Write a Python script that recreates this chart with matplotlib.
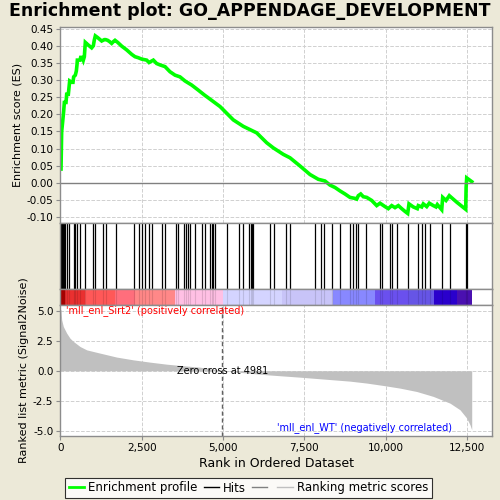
import matplotlib

matplotlib.use("Agg")

import matplotlib.pyplot as plt
from matplotlib.lines import Line2D
from matplotlib.ticker import FuncFormatter, MultipleLocator

TITLE = "Enrichment plot: GO_APPENDAGE_DEVELOPMENT"
N_GENES = 12650
ZERO_CROSS = 4981
POS_LABEL = "'mll_enl_Sirt2' (positively correlated)"
NEG_LABEL = "'mll_enl_WT' (negatively correlated)"

# positions of the gene-set members in the ranked list
HIT_RANKS = [
    0, 22, 52, 83, 114, 144, 197, 267, 406, 452, 504, 606, 750, 996, 1067,
    1322, 1405, 1703, 2275, 2419, 2521, 2604, 2736, 2828, 3117, 3219, 3547,
    3609, 3812, 3864, 3916, 3987, 4141, 4347, 4448, 4602, 4648, 4704, 4756,
    5115, 5503, 5626, 5810, 5847, 5878, 5933, 6446, 6569, 6938, 7061, 7829,
    8005, 8106, 8343, 8598, 8905, 9007, 9081, 9161, 9388, 9828, 9881, 10135,
    10206, 10341, 10698, 11005, 11110, 11211, 11365, 11725, 11980, 12462,
    12487,
]

# running enrichment score
ES_RANKS = [
    22, 42, 73, 104, 124, 175, 196, 247, 267, 288, 350, 390, 411, 462, 493,
    513, 524, 606, 626, 677, 708, 739, 769, 862, 964, 1015, 1046, 1077, 1149,
    1272, 1354, 1395, 1456, 1518, 1579, 1630, 1682, 1764, 1887, 2040, 2194,
    2296, 2399, 2501, 2655, 2727, 2860, 2962, 3065, 3219, 3372, 3526, 3679,
    3833, 4038, 4243, 4428, 4500, 4911, 5318, 5626, 6037, 6345, 6548, 6855,
    7061, 7369, 7676, 7931, 8137, 8291, 8444, 8598, 8752, 8905, 9059, 9111,
    9161, 9235, 9315, 9419, 9573, 9726, 9828, 9982, 10083, 10188, 10289,
    10391, 10495, 10596, 10679, 10719, 10852, 10975, 11005, 11110, 11159,
    11264, 11343, 11466, 11549, 11590, 11725, 11755, 11857, 11958, 12186,
    12462, 12475, 12493, 12650,
]
ES_VALUES = [
    0.040, 0.150, 0.179, 0.210, 0.235, 0.235, 0.259, 0.259, 0.278, 0.298,
    0.294, 0.294, 0.310, 0.315, 0.327, 0.345, 0.359, 0.359, 0.367, 0.367,
    0.359, 0.369, 0.411, 0.403, 0.395, 0.401, 0.418, 0.430, 0.425, 0.415,
    0.419, 0.419, 0.417, 0.413, 0.408, 0.413, 0.417, 0.411, 0.400, 0.389,
    0.376, 0.369, 0.366, 0.362, 0.359, 0.352, 0.359, 0.349, 0.345, 0.340,
    0.325, 0.315, 0.310, 0.298, 0.286, 0.271, 0.257, 0.252, 0.223, 0.184,
    0.165, 0.146, 0.117, 0.102, 0.083, 0.073, 0.049, 0.024, 0.010, 0.005,
    -0.007, -0.014, -0.024, -0.033, -0.043, -0.046, -0.048, -0.038, -0.033,
    -0.041, -0.043, -0.052, -0.067, -0.060, -0.070, -0.076, -0.067, -0.073,
    -0.067, -0.076, -0.084, -0.090, -0.062, -0.071, -0.076, -0.067, -0.071,
    -0.062, -0.070, -0.060, -0.067, -0.071, -0.064, -0.079, -0.043, -0.052,
    -0.038, -0.057, -0.078, -0.014, 0.014, 0.003,
]

# ranked list metric (Signal2Noise)
METRIC_RANKS = [
    0, 22, 42, 93, 196, 298, 401, 606, 811, 1220, 1733, 2244, 2757, 3270,
    3781, 4295, 4981, 5318, 6345, 7369, 8392, 8905, 9419, 9929, 10443,
    10956, 11466, 11980, 12287, 12493, 12594, 12647,
]
METRIC_VALUES = [
    5.10, 5.07, 4.24, 3.68, 3.13, 2.71, 2.44, 2.02, 1.74, 1.47, 1.14, 0.91,
    0.72, 0.55, 0.42, 0.30, 0.00, -0.08, -0.33, -0.53, -0.75, -0.86, -1.02,
    -1.22, -1.44, -1.72, -2.13, -2.69, -3.24, -3.93, -4.49, -4.90,
]

# colour strip under the hits
BAR_EDGES = [0, 144, 759, 1681, 2306, 3526, 4993, 6814, 8382, 9673, 10718,
             11487, 12194, 12655]
BAR_COLORS = ["#c00000", "#ea3030", "#ff5858", "#ff6e7c", "#ff8888",
              "#ffc0e4", "#d4d4ff", "#c8c4f8", "#8888ff", "#6a50ee",
              "#6655e6", "#2a00cc", "#4a10b0"]

BG = "#ece9d8"
FRAME = "#8c8c8c"
GRID = "#d0d0d0"
XMAX = 13280


def thousands(x, _pos):
    return f"{x:,.0f}"


def style_frame(ax):
    for sp in ax.spines.values():
        sp.set_color(FRAME)
        sp.set_linewidth(1.0)


def main() -> None:
    plt.rcParams["font.family"] = "DejaVu Sans"
    fig = plt.figure(figsize=(5, 5), dpi=100, facecolor=BG)

    left, width = 0.1206, 0.864
    ax_es = fig.add_axes([left, 0.554, width, 0.392])
    ax_hit = fig.add_axes([left, 0.4214, width, 0.1326])
    ax_bar = fig.add_axes([left, 0.390, width, 0.0314])
    ax_m = fig.add_axes([left, 0.128, width, 0.262])

    # enrichment profile
    ax_es.plot(ES_RANKS, ES_VALUES, color="#00ff00", lw=2.6, solid_joinstyle="miter")
    ax_es.axhline(0, color="#808080", lw=1.0)
    ax_es.set_xlim(0, XMAX)
    ax_es.set_ylim(-0.118, 0.456)
    ax_es.yaxis.set_major_locator(MultipleLocator(0.05))
    ax_es.yaxis.set_major_formatter(FuncFormatter(lambda v, p: f"{v:.2f}"))
    ax_es.xaxis.set_major_locator(MultipleLocator(2500))
    ax_es.set_xticklabels([])
    ax_es.tick_params(axis="x", length=0)
    ax_es.tick_params(axis="y", labelsize=7.5, length=3, color=FRAME, pad=2)
    ax_es.grid(True, ls="--", color=GRID, lw=0.7)
    ax_es.set_axisbelow(True)
    ax_es.set_ylabel("Enrichment score (ES)", fontsize=8, labelpad=3)
    style_frame(ax_es)

    # hits
    ax_hit.vlines(HIT_RANKS, 0, 1, color="black", lw=0.9)
    ax_hit.set_xlim(0, XMAX)
    ax_hit.set_ylim(0, 1)
    ax_hit.set_xticks([])
    ax_hit.set_yticks([])
    style_frame(ax_hit)

    # colour strip
    for i, col in enumerate(BAR_COLORS):
        ax_bar.axvspan(BAR_EDGES[i], BAR_EDGES[i + 1], color=col, lw=0)
    ax_bar.vlines(HIT_RANKS, 0, 1, color="black", lw=0.8, alpha=0.12)
    ax_bar.set_xlim(0, XMAX)
    ax_bar.set_ylim(0, 1)
    ax_bar.set_xticks([])
    ax_bar.set_yticks([])
    style_frame(ax_bar)

    # ranked list metric
    ax_m.fill_between(METRIC_RANKS, METRIC_VALUES, 0, color="#c0c0c0", lw=0)
    ax_m.axvline(ZERO_CROSS, color="#606060", ls="--", lw=1.0, dashes=(3, 2))
    ax_m.set_xlim(0, XMAX)
    ax_m.set_ylim(-5.42, 5.47)
    ax_m.yaxis.set_major_locator(MultipleLocator(2.5))
    ax_m.yaxis.set_major_formatter(FuncFormatter(lambda v, p: f"{v:.1f}"))
    ax_m.xaxis.set_major_locator(MultipleLocator(2500))
    ax_m.xaxis.set_major_formatter(FuncFormatter(thousands))
    ax_m.tick_params(labelsize=7.5, length=3, color=FRAME, pad=2)
    ax_m.grid(True, ls="--", color=GRID, lw=0.7)
    ax_m.set_axisbelow(True)
    ax_m.set_xlabel("Rank in Ordered Dataset", fontsize=9, labelpad=3)
    ax_m.set_ylabel("Ranked list metric (Signal2Noise)", fontsize=8, labelpad=3)
    ax_m.text(ZERO_CROSS, 0.0, f"Zero cross at {ZERO_CROSS}", ha="center",
              va="center", fontsize=7)
    ax_m.text(180, 5.0, POS_LABEL, color="red", fontsize=7, ha="left", va="center")
    ax_m.text(12050, -4.75, NEG_LABEL, color="blue", fontsize=7, ha="right", va="center")
    style_frame(ax_m)

    fig.suptitle(TITLE, fontsize=12.5, fontweight="bold", x=0.5, y=0.995, va="top")

    handles = [
        Line2D([], [], color="#00ff00", lw=2),
        Line2D([], [], color="black", lw=1),
        Line2D([], [], color="#808080", lw=1),
        Line2D([], [], color="#c0c0c0", lw=1),
    ]
    labels = ["Enrichment profile", "Hits", "", "Ranking metric scores"]
    leg = fig.legend(handles, labels, loc="center", bbox_to_anchor=(0.497, 0.024),
                     ncol=4, fontsize=8.5, frameon=True, fancybox=False,
                     edgecolor="black", handlelength=1.3, handletextpad=0.35,
                     columnspacing=0.5, borderpad=0.3)
    leg.get_frame().set_linewidth(0.8)

    fig.savefig("out.png", dpi=100, facecolor=BG)
    plt.close(fig)


if __name__ == "__main__":
    main()
